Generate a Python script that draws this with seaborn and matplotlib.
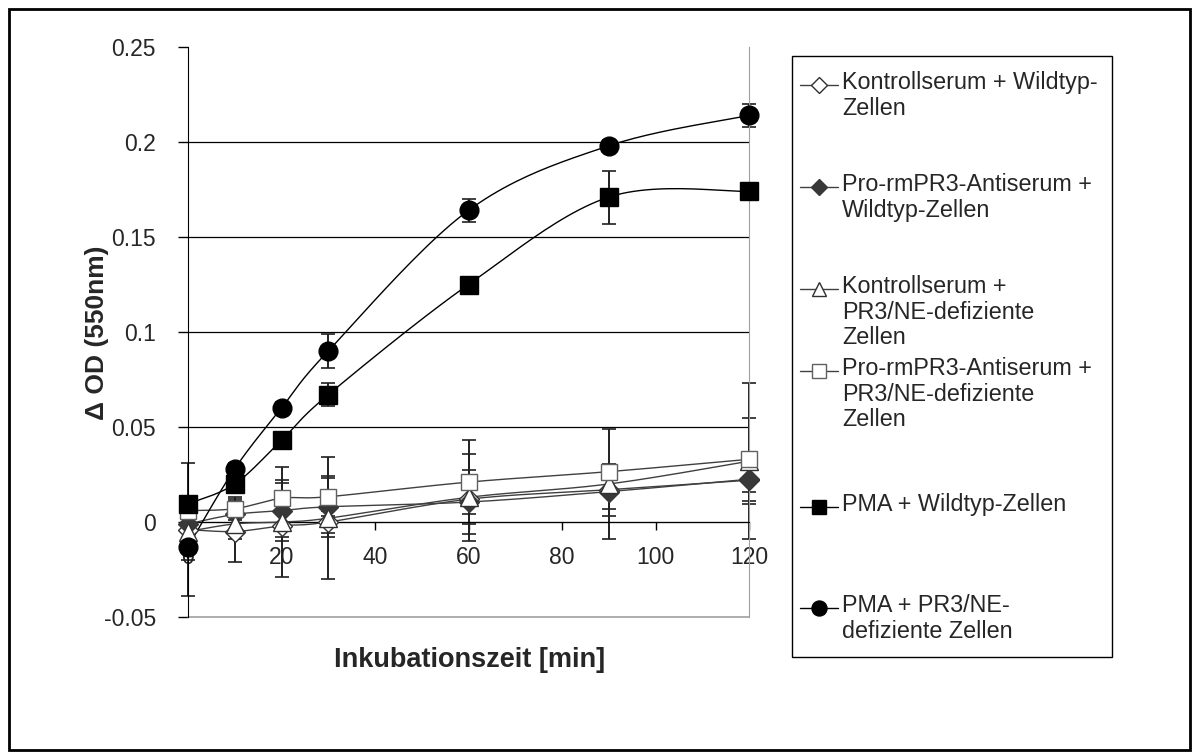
import numpy as np
import pandas as pd
import seaborn as sns
import matplotlib.pyplot as plt
from matplotlib.lines import Line2D
from matplotlib.patches import Rectangle

# -------------------- data -------------------- #

time = [0, 10, 20, 30, 60, 90, 120]

kontroll_wt = [-0.004, -0.005, -0.002, 0.000, 0.012, 0.017, 0.022]
kontroll_wt_err = [0.035, 0.016, 0.006, 0.006, 0.008, 0.010, 0.006]

antiserum_wt = [-0.001, 0.004, 0.006, 0.008, 0.0105, 0.016, 0.0225]
antiserum_wt_err = [0.010, 0.008, 0.016, 0.016, 0.017, 0.013, 0.013]

kontroll_ko = [-0.005, -0.001, 0.000, 0.002, 0.013, 0.020, 0.032]
kontroll_ko_err = [0.008, 0.008, 0.029, 0.032, 0.023, 0.029, 0.041]

antiserum_ko = [0.006, 0.007, 0.0125, 0.0133, 0.021, 0.0265, 0.033]
antiserum_ko_err = [0.006, 0.006, 0.008, 0.010, 0.022, 0.004, 0.022]

pma_wt = [0.0095, 0.020, 0.043, 0.067, 0.125, 0.171, 0.174]
pma_wt_err = [0.004, 0.003, 0.003, 0.006, 0.003, 0.014, 0.003]

pma_ko = [-0.013, 0.028, 0.060, 0.090, 0.164, 0.198, 0.214]
pma_ko_err = [0.007, 0.003, 0.003, 0.009, 0.006, 0.003, 0.006]

labels = [
    "Kontrollserum + Wildtyp-\nZellen",
    "Pro-rmPR3-Antiserum +\nWildtyp-Zellen",
    "Kontrollserum +\nPR3/NE-defiziente\nZellen",
    "Pro-rmPR3-Antiserum +\nPR3/NE-defiziente\nZellen",
    "PMA + Wildtyp-Zellen",
    "PMA + PR3/NE-\ndefiziente Zellen",
]

values = [kontroll_wt, antiserum_wt, kontroll_ko, antiserum_ko, pma_wt, pma_ko]
errors = [kontroll_wt_err, antiserum_wt_err, kontroll_ko_err, antiserum_ko_err, pma_wt_err, pma_ko_err]

# marker, face, edge, size, line colour
styles = [
    ("D", "white", "#303030", 10, "#404040"),
    ("D", "#383838", "#383838", 10, "#404040"),
    ("^", "white", "#303030", 13, "#404040"),
    ("s", "white", "#606060", 12, "#404040"),
    ("s", "black", "black", 12.5, "black"),
    ("o", "black", "black", 13.5, "black"),
]

# -------------------- helpers -------------------- #


def excel_smooth(x, y, n=25):
    """Bezier path through the points, like Excel's smoothed line."""
    x = np.asarray(x, float)
    y = np.asarray(y, float)
    xs, ys = [], []
    t = np.linspace(0, 1, n)
    for i in range(len(x) - 1):
        a = i - 1 if i > 0 else i
        d = i + 2 if i + 2 < len(x) else i + 1
        c1 = (x[i] + (x[i + 1] - x[a]) / 6, y[i] + (y[i + 1] - y[a]) / 6)
        c2 = (x[i + 1] - (x[d] - x[i]) / 6, y[i + 1] - (y[d] - y[i]) / 6)
        b0, b1, b2, b3 = (1 - t) ** 3, 3 * (1 - t) ** 2 * t, 3 * (1 - t) * t ** 2, t ** 3
        xs.extend(b0 * x[i] + b1 * c1[0] + b2 * c2[0] + b3 * x[i + 1])
        ys.extend(b0 * y[i] + b1 * c1[1] + b2 * c2[1] + b3 * y[i + 1])
    return pd.DataFrame({"x": xs, "y": ys})


W, H = 1192, 752


def fx(px):
    return px / W


def fy(py):
    return 1 - py / H


# -------------------- plot -------------------- #

sns.set_style("white")
plt.rcParams["font.family"] = ["Liberation Sans", "DejaVu Sans"]
plt.rcParams["axes.unicode_minus"] = False

fig = plt.figure(figsize=(W / 100, H / 100), dpi=100)
ax = fig.add_axes([fx(188), fy(617), fx(749) - fx(188), fy(47) - fy(617)])

for vals, errs, (m, fc, ec, ms, lc) in zip(values, errors, styles):
    smooth = excel_smooth(time, vals)
    sns.lineplot(data=smooth, x="x", y="y", sort=False, estimator=None,
                 color=lc, lw=1.0, ax=ax, zorder=3)
    ax.errorbar(time, vals, yerr=errs, fmt="none", ecolor="#202020",
                elinewidth=1.4, capsize=5, capthick=1.2, zorder=2, clip_on=False)
    ax.plot(time, vals, ls="none", marker=m, ms=ms, mfc=fc, mec=ec,
            mew=1.0, zorder=4, clip_on=False)

ax.set_xlim(0, 120)
ax.set_ylim(-0.05, 0.25)
ax.set_xticks(range(0, 121, 20))
ax.set_yticks(np.arange(-0.05, 0.2501, 0.05))
ax.set_yticklabels([f"{v:g}" for v in np.round(np.arange(-0.05, 0.2501, 0.05), 2)])
ax.set_xlabel("")
ax.set_ylabel("")

ax.grid(axis="y", color="black", lw=0.9)
grid = ax.get_ygridlines()
grid[0].set_visible(False)
grid[-1].set_visible(False)

ax.spines["top"].set_visible(False)
ax.spines["right"].set_color("#a0a0a0")
ax.spines["left"].set_color("black")
ax.spines["bottom"].set_position(("data", 0))
ax.spines["bottom"].set_color("black")
ax.axhline(-0.05, color="#a0a0a0", lw=1.2, clip_on=False)

ax.tick_params(axis="y", direction="out", length=7, width=1, left=True,
               labelsize=16.5, pad=16, color="black")
ax.tick_params(axis="x", direction="out", length=6, width=1, bottom=True,
               labelsize=16.5, pad=11, color="black")

fig.text(fx(470), fy(660), "Inkubationszeit [min]", ha="center", va="center",
         fontsize=19.5, fontweight="bold")
fig.text(fx(97), fy(333), "Δ OD (550nm)", ha="center", va="center",
         rotation=90, fontsize=19, fontweight="bold")

# legend drawn by hand (Excel spacing is irregular)
legend_y = [85, 187, 289, 371, 507, 608]
fig.patches.append(Rectangle((fx(792), fy(657)), fx(1112) - fx(792), fy(56) - fy(657),
                             transform=fig.transFigure, fill=False, ec="black", lw=1.0))
for lab, y, (m, fc, ec, ms, lc) in zip(labels, legend_y, styles):
    fig.lines.append(Line2D([fx(800), fx(838)], [fy(y), fy(y)], color=lc, lw=1.0,
                            transform=fig.transFigure))
    fig.lines.append(Line2D([fx(819)], [fy(y)], marker=m, ms=ms * 0.8, mfc=fc, mec=ec,
                            mew=1.0, transform=fig.transFigure))
    fig.text(fx(842), fy(y - 14), lab, ha="left", va="top", fontsize=16.8,
             linespacing=1.15)

# outer frame
fig.patches.append(Rectangle((fx(9), fy(750)), fx(1190) - fx(9), fy(9) - fy(750),
                             transform=fig.transFigure, fill=False, ec="black", lw=2))

plt.savefig("out.png", dpi=100)
